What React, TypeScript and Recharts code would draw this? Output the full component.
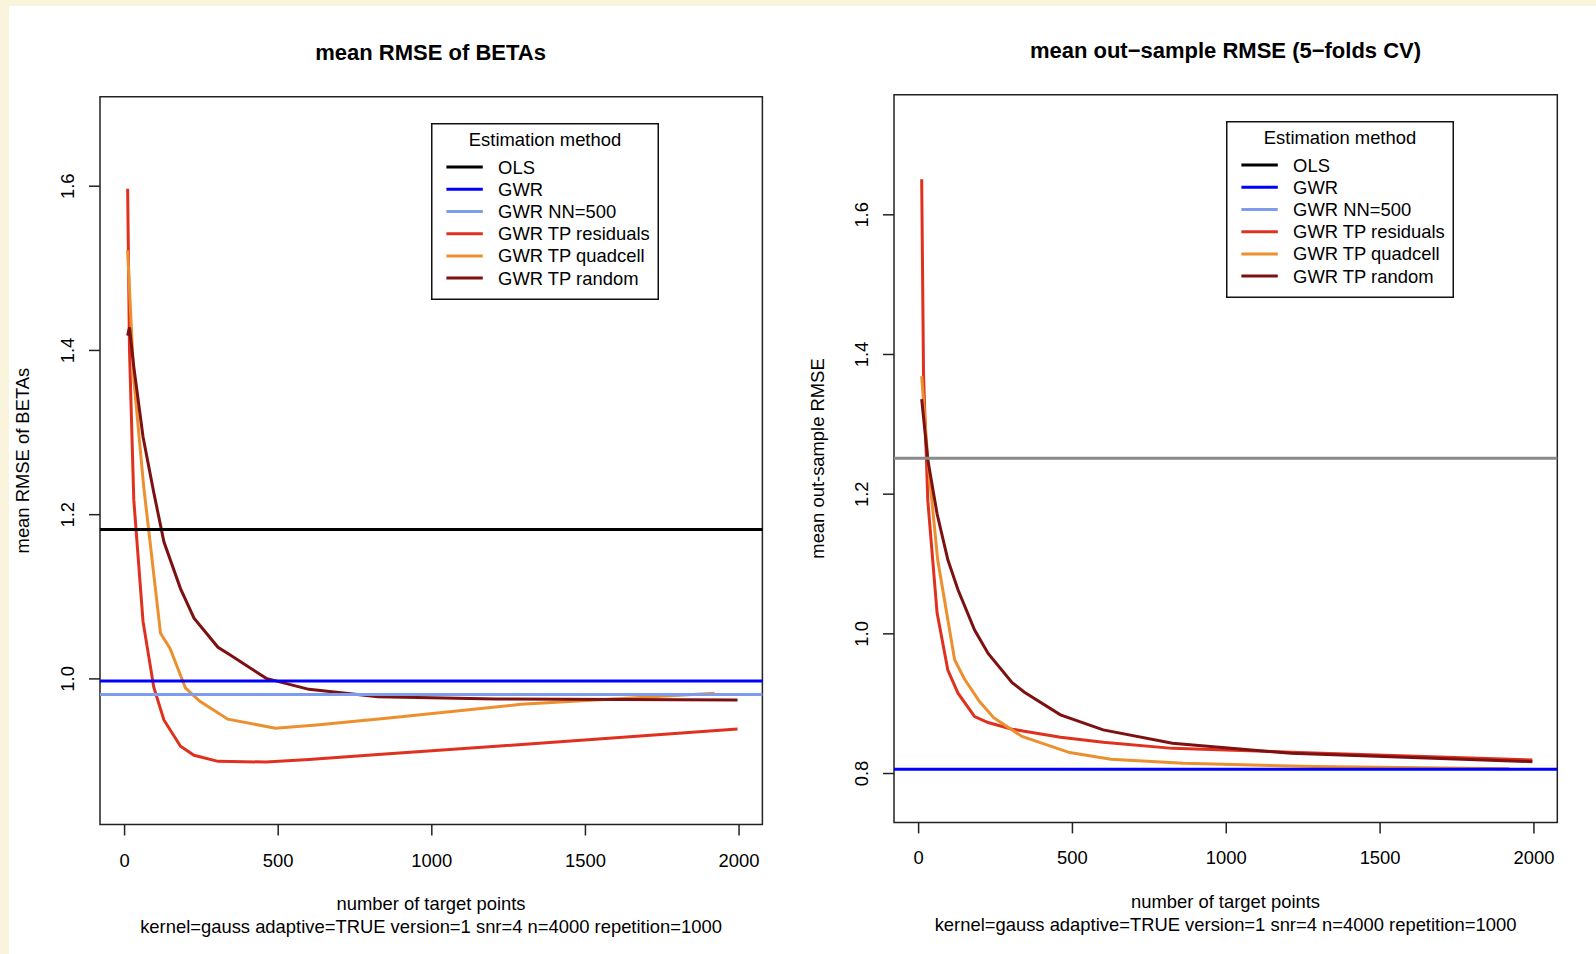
import { LineChart, Line, XAxis, YAxis, ReferenceLine, ReferenceArea, Legend } from "recharts";

const FONT = '"Liberation Sans", Arial, Helvetica, sans-serif';
const FS = 18.4;

const COLORS = {
  ols: "#000000",
  olsCv: "#8a8a8a",
  gwr: "#0000ff",
  gwrNN: "#7d9cee",
  residuals: "#e0301e",
  quadcell: "#ec8f2f",
  random: "#7d1111",
};

// number of target points
const TP_POINTS = [10, 16, 30, 60, 95, 128, 182, 226, 304, 344, 461, 600, 825, 1210, 1995];
const QC_POINTS = [10, 30, 62, 117, 148, 198, 244, 336, 491, 625, 860, 1290, 1920];

const X_TICKS = [0, 500, 1000, 1500, 2000];
const BETA_Y_TICKS = [1.0, 1.2, 1.4, 1.6];
const CV_Y_TICKS = [0.8, 1.0, 1.2, 1.4, 1.6];

// mean RMSE of BETAs
const BETA_RESIDUALS = [1.597, 1.4, 1.218, 1.07, 0.99, 0.95, 0.918, 0.907, 0.8996, 0.8993, 0.8988, 0.902, 0.908, 0.918, 0.939];
const BETA_RANDOM = [1.418, 1.428, 1.38, 1.295, 1.227, 1.167, 1.11, 1.074, 1.0385, 1.029, 1.0007, 0.9873, 0.9783, 0.9755, 0.9743];
const BETA_QUADCELL = [1.522, 1.365, 1.235, 1.0555, 1.037, 0.989, 0.973, 0.951, 0.94, 0.944, 0.9525, 0.969, 0.9825];
const BETA_OLS = 1.182;
const BETA_GWR = 0.9975;
const BETA_GWR_NN = 0.981;

// mean out-sample RMSE
const CV_RESIDUALS = [1.651, 1.37, 1.19, 1.03, 0.948, 0.915, 0.8815, 0.873, 0.8635, 0.8606, 0.852, 0.8448, 0.836, 0.8305, 0.8195];
const CV_RANDOM = [1.336, 1.31, 1.249, 1.172, 1.106, 1.063, 1.0055, 0.972, 0.93, 0.9165, 0.884, 0.8625, 0.8434, 0.829, 0.817];
const CV_QUADCELL = [1.369, 1.249, 1.106, 0.963, 0.936, 0.903, 0.88, 0.853, 0.83, 0.8205, 0.8147, 0.81, 0.807];
const CV_OLS = 1.2514;
const CV_GWR = 0.806;

const LEGEND_ITEMS = [
  { name: "OLS", color: COLORS.ols },
  { name: "GWR", color: COLORS.gwr },
  { name: "GWR NN=500", color: COLORS.gwrNN },
  { name: "GWR TP residuals", color: COLORS.residuals },
  { name: "GWR TP quadcell", color: COLORS.quadcell },
  { name: "GWR TP random", color: COLORS.random },
];

const X_DOMAIN: [number, number] = [-80, 2076];

const toPoints = (xs: number[], ys: number[]) => xs.map((x, i) => ({ x, y: ys[i] }));

function XTick(props: any) {
  const { x, y, payload } = props;
  return (
    <text x={x} y={y + 13} textAnchor="middle" fontSize={FS} fontFamily={FONT} fill="#000">
      {payload.value}
    </text>
  );
}

function YTick(props: any) {
  const { x, y, payload } = props;
  const bx = x - 15;
  return (
    <text
      x={bx}
      y={y}
      transform={`rotate(-90 ${bx} ${y})`}
      textAnchor="middle"
      fontSize={FS}
      fontFamily={FONT}
      fill="#000"
    >
      {Number(payload.value).toFixed(1)}
    </text>
  );
}

function LegendBox() {
  return (
    <svg width={228} height={177} style={{ display: "block" }}>
      <rect x={0.75} y={0.75} width={226.5} height={175.5} fill="#fff" stroke="#111" strokeWidth={1.5} />
      <text x={114} y={22.7} textAnchor="middle" fontSize={FS} fontFamily={FONT} fill="#000">
        Estimation method
      </text>
      {LEGEND_ITEMS.map((it, i) => {
        const cy = 44.1 + i * 22.2;
        return (
          <g key={it.name}>
            <line x1={15.4} x2={51.8} y1={cy} y2={cy} stroke={it.color} strokeWidth={3} />
            <text x={67.1} y={cy + 6.5} fontSize={FS} fontFamily={FONT} fill="#000">
              {it.name}
            </text>
          </g>
        );
      })}
    </svg>
  );
}

function Panel({
  left,
  width,
  top,
  bottom,
  right,
  yDomain,
  yTicks,
  hlines,
  residuals,
  quadcell,
  random,
  legendPos,
}: {
  left: number;
  width: number;
  top: number;
  bottom: number;
  right: number;
  yDomain: [number, number];
  yTicks: number[];
  hlines: { y: number; color: string }[];
  residuals: number[];
  quadcell: number[];
  random: number[];
  legendPos: { left: number; top: number };
}) {
  return (
    <div style={{ position: "absolute", left, top: 0 }}>
      <LineChart width={width} height={954} margin={{ top, right, bottom, left: 0 }}>
        <XAxis
          type="number"
          dataKey="x"
          domain={X_DOMAIN}
          ticks={X_TICKS}
          allowDataOverflow
          axisLine={false}
          tickSize={11}
          tickMargin={18}
          tickLine={{ stroke: "#222", strokeWidth: 1.5 }}
          tick={XTick}
          height={40}
        />
        <YAxis
          type="number"
          dataKey="y"
          domain={yDomain}
          ticks={yTicks}
          allowDataOverflow
          axisLine={false}
          tickSize={11}
          tickMargin={0}
          tickLine={{ stroke: "#222", strokeWidth: 1.5 }}
          tick={YTick}
          width={100}
        />
        <Line
          data={toPoints(TP_POINTS, residuals)}
          dataKey="y"
          type="linear"
          stroke={COLORS.residuals}
          strokeWidth={3}
          dot={false}
          isAnimationActive={false}
        />
        <Line
          data={toPoints(QC_POINTS, quadcell)}
          dataKey="y"
          type="linear"
          stroke={COLORS.quadcell}
          strokeWidth={3}
          dot={false}
          isAnimationActive={false}
        />
        <Line
          data={toPoints(TP_POINTS, random)}
          dataKey="y"
          type="linear"
          stroke={COLORS.random}
          strokeWidth={3}
          dot={false}
          isAnimationActive={false}
        />
        {hlines.map((h) => (
          <ReferenceLine key={h.y} y={h.y} stroke={h.color} strokeWidth={3} />
        ))}
        <ReferenceArea
          x1={X_DOMAIN[0]}
          x2={X_DOMAIN[1]}
          y1={yDomain[0]}
          y2={yDomain[1]}
          fill="none"
          fillOpacity={0}
          stroke="#222"
          strokeWidth={1.5}
        />
        <Legend
          layout="vertical"
          align="center"
          verticalAlign="middle"
          content={() => <LegendBox />}
          wrapperStyle={{ position: "absolute", left: legendPos.left, top: legendPos.top, width: 228, height: 177 }}
        />
      </LineChart>
    </div>
  );
}

export default function App() {
  return (
    <div
      style={{
        position: "absolute",
        left: 0,
        top: 0,
        width: 1596,
        height: 954,
        background: "#fbf4dc",
        overflow: "hidden",
        fontFamily: FONT,
      }}
    >
      <div style={{ position: "absolute", left: 9, top: 6, width: 1587, height: 948, background: "#fff" }} />
      <Panel
        left={0}
        width={800}
        top={96.7}
        bottom={89.5}
        right={37.6}
        yDomain={[0.8227, 1.709]}
        yTicks={BETA_Y_TICKS}
        hlines={[
          { y: BETA_OLS, color: COLORS.ols },
          { y: BETA_GWR, color: COLORS.gwr },
          { y: BETA_GWR_NN, color: COLORS.gwrNN },
        ]}
        residuals={BETA_RESIDUALS}
        quadcell={BETA_QUADCELL}
        random={BETA_RANDOM}
        legendPos={{ left: 430.6, top: 123.2 }}
      />
      <Panel
        left={794}
        width={802}
        top={94.7}
        bottom={91.6}
        right={38.7}
        yDomain={[0.73, 1.772]}
        yTicks={CV_Y_TICKS}
        hlines={[
          { y: CV_OLS, color: COLORS.olsCv },
          { y: CV_GWR, color: COLORS.gwr },
        ]}
        residuals={CV_RESIDUALS}
        quadcell={CV_QUADCELL}
        random={CV_RANDOM}
        legendPos={{ left: 431.5, top: 121.1 }}
      />
      <svg
        width={1596}
        height={954}
        style={{ position: "absolute", left: 0, top: 0, pointerEvents: "none" }}
        fontFamily={FONT}
      >
        <text x={430.6} y={59.9} textAnchor="middle" fontSize={22} fontWeight="bold" fill="#000">
          mean RMSE of BETAs
        </text>
        <text x={1225.5} y={57.8} textAnchor="middle" fontSize={22} fontWeight="bold" fill="#000">
          mean out−sample RMSE (5−folds CV)
        </text>
        <text x={431} y={909.5} textAnchor="middle" fontSize={FS} fill="#000">
          number of target points
        </text>
        <text x={431} y={932.8} textAnchor="middle" fontSize={FS} fill="#000">
          kernel=gauss adaptive=TRUE version=1 snr=4 n=4000 repetition=1000
        </text>
        <text x={1225.5} y={907.5} textAnchor="middle" fontSize={FS} fill="#000">
          number of target points
        </text>
        <text x={1225.5} y={930.7} textAnchor="middle" fontSize={FS} fill="#000">
          kernel=gauss adaptive=TRUE version=1 snr=4 n=4000 repetition=1000
        </text>
        <text x={29} y={460.6} transform="rotate(-90 29 460.6)" textAnchor="middle" fontSize={FS} fill="#000">
          mean RMSE of BETAs
        </text>
        <text x={823.8} y={458.5} transform="rotate(-90 823.8 458.5)" textAnchor="middle" fontSize={FS} fill="#000">
          mean out-sample RMSE
        </text>
      </svg>
    </div>
  );
}
